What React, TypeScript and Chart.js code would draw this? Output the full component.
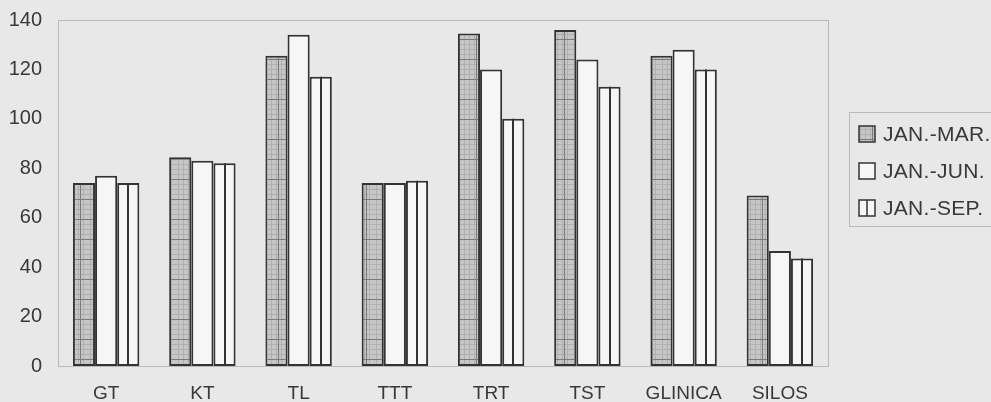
import React, { useEffect, useRef } from "react";
import { Chart, registerables } from "chart.js";

Chart.register(...registerables);

const categories = ["GT", "KT", "TL", "TTT", "TRT", "TST", "GLINICA", "SILOS"];
const seriesLabels = ["JAN.-MAR.", "JAN.-JUN.", "JAN.-SEP."];
const janMar = [74, 84.5, 125.5, 74, 134.5, 136, 125.5, 69];
const janJun = [77, 83, 134, 74, 120, 124, 128, 46.5];
const janSep = [74, 82, 117, 75, 100, 113, 120, 43.5];
const yTicks = [0, 20, 40, 60, 80, 100, 120, 140];

const FONT = "'Liberation Sans', Arial, sans-serif";

function makeGridPattern(): CanvasPattern | string {
  const c = document.createElement("canvas");
  c.width = 22;
  c.height = 20;
  const g = c.getContext("2d");
  if (!g) return "#c4c4c4";
  g.fillStyle = "#c6c6c6";
  g.fillRect(0, 0, 22, 20);
  g.strokeStyle = "#b0b0b0";
  g.lineWidth = 1;
  for (let x = 2.5; x < 22; x += 5) {
    g.beginPath(); g.moveTo(x, 0); g.lineTo(x, 20); g.stroke();
  }
  for (let y = 4.5; y < 20; y += 5) {
    g.beginPath(); g.moveTo(0, y); g.lineTo(22, y); g.stroke();
  }
  g.strokeStyle = "#7a7a7a";
  g.beginPath(); g.moveTo(14.5, 0); g.lineTo(14.5, 20); g.stroke();
  g.beginPath(); g.moveTo(0, 19.5); g.lineTo(22, 19.5); g.stroke();
  return g.createPattern(c, "repeat") || "#c4c4c4";
}

export default function App() {
  const ref = useRef<HTMLCanvasElement | null>(null);

  useEffect(() => {
    if (!ref.current) return;
    const gridFill = makeGridPattern();
    const fills: any[] = [gridFill, "#f6f6f6", "#f6f6f6"];

    const decorPlugin = {
      id: "decor",
      beforeDraw(chart: any) {
        const { ctx, width, height } = chart;
        ctx.save();
        ctx.fillStyle = "#e8e8e8";
        ctx.fillRect(0, 0, width, height);
        ctx.restore();
      },
      beforeDatasetsDraw(chart: any) {
        const { ctx, chartArea: a } = chart;
        ctx.save();
        ctx.strokeStyle = "#8a8a8a";
        ctx.lineWidth = 1;
        ctx.setLineDash([1, 1]);
        ctx.strokeRect(a.left + 0.5, a.top + 0.5, a.right - a.left, a.bottom - a.top);
        ctx.restore();
      },
      afterDatasetsDraw(chart: any) {
        const { ctx, chartArea: a } = chart;
        const meta = chart.getDatasetMeta(2);
        ctx.save();
        ctx.strokeStyle = "#333";
        ctx.lineWidth = 2;
        meta.data.forEach((bar: any) => {
          ctx.beginPath();
          ctx.moveTo(Math.round(bar.x), bar.y);
          ctx.lineTo(Math.round(bar.x), bar.base);
          ctx.stroke();
        });
        // legend
        const lx = a.right + 21;
        const ly = 112;
        ctx.strokeStyle = "#8a8a8a";
        ctx.lineWidth = 1;
        ctx.setLineDash([1, 1]);
        ctx.strokeRect(lx + 0.5, ly + 0.5, 200, 114);
        ctx.setLineDash([]);
        ctx.font = "21px " + FONT;
        try { (ctx as any).letterSpacing = "0.3px"; } catch (e) {}
        ctx.textBaseline = "middle";
        seriesLabels.forEach((lab, i) => {
          const cy = ly + 22 + i * 37;
          const bx = lx + 10;
          const by = cy - 8;
          ctx.fillStyle = fills[i];
          ctx.fillRect(bx, by, 16, 16);
          ctx.strokeStyle = "#333";
          ctx.lineWidth = 1.5;
          ctx.strokeRect(bx, by, 16, 16);
          if (i === 2) {
            ctx.beginPath();
            ctx.moveTo(bx + 8, by);
            ctx.lineTo(bx + 8, by + 16);
            ctx.stroke();
          }
          ctx.fillStyle = "#383838";
          ctx.fillText(lab, bx + 24, cy + 1);
        });
        ctx.restore();
      },
    };

    const chart = new Chart(ref.current, {
      type: "bar",
      data: {
        labels: categories,
        datasets: [janMar, janJun, janSep].map((d, i) => ({
          label: seriesLabels[i],
          data: d,
          backgroundColor: fills[i],
          borderColor: "#333",
          borderWidth: 2,
          borderSkipped: false,
          categoryPercentage: 0.69,
          barPercentage: 1,
        })),
      },
      options: {
        animation: false,
        responsive: false,
        devicePixelRatio: 1,
        layout: { padding: { top: 20, right: 163, left: 0, bottom: 0 } },
        plugins: { legend: { display: false }, tooltip: { enabled: false } },
        scales: {
          x: {
            grid: { display: false, drawTicks: false },
            border: { display: false },
            ticks: {
              color: "#383838",
              padding: 16,
              font: { family: FONT, size: 19 },
            },
            afterFit(scale: any) {
              scale.height = 36;
              scale.paddingLeft = 0;
              scale.paddingRight = 0;
            },
          },
          y: {
            min: 0,
            max: 140,
            grid: { display: false, drawTicks: false },
            border: { display: false },
            afterBuildTicks(scale: any) { scale.ticks = yTicks.map((v) => ({ value: v })); },
            ticks: {
              color: "#383838",
              padding: 16,
              font: { family: FONT, size: 20 },
            },
            afterFit(scale: any) {
              scale.width = 58;
              scale.paddingTop = 0;
              scale.paddingBottom = 0;
            },
          },
        },
      },
      plugins: [decorPlugin],
    });
    return () => chart.destroy();
  }, []);

  return (
    <div style={{ position: "absolute", left: 0, top: 0, width: 991, height: 402, overflow: "hidden", background: "#e8e8e8" }}>
      <canvas ref={ref} width={991} height={402} style={{ display: "block" }} />
    </div>
  );
}
